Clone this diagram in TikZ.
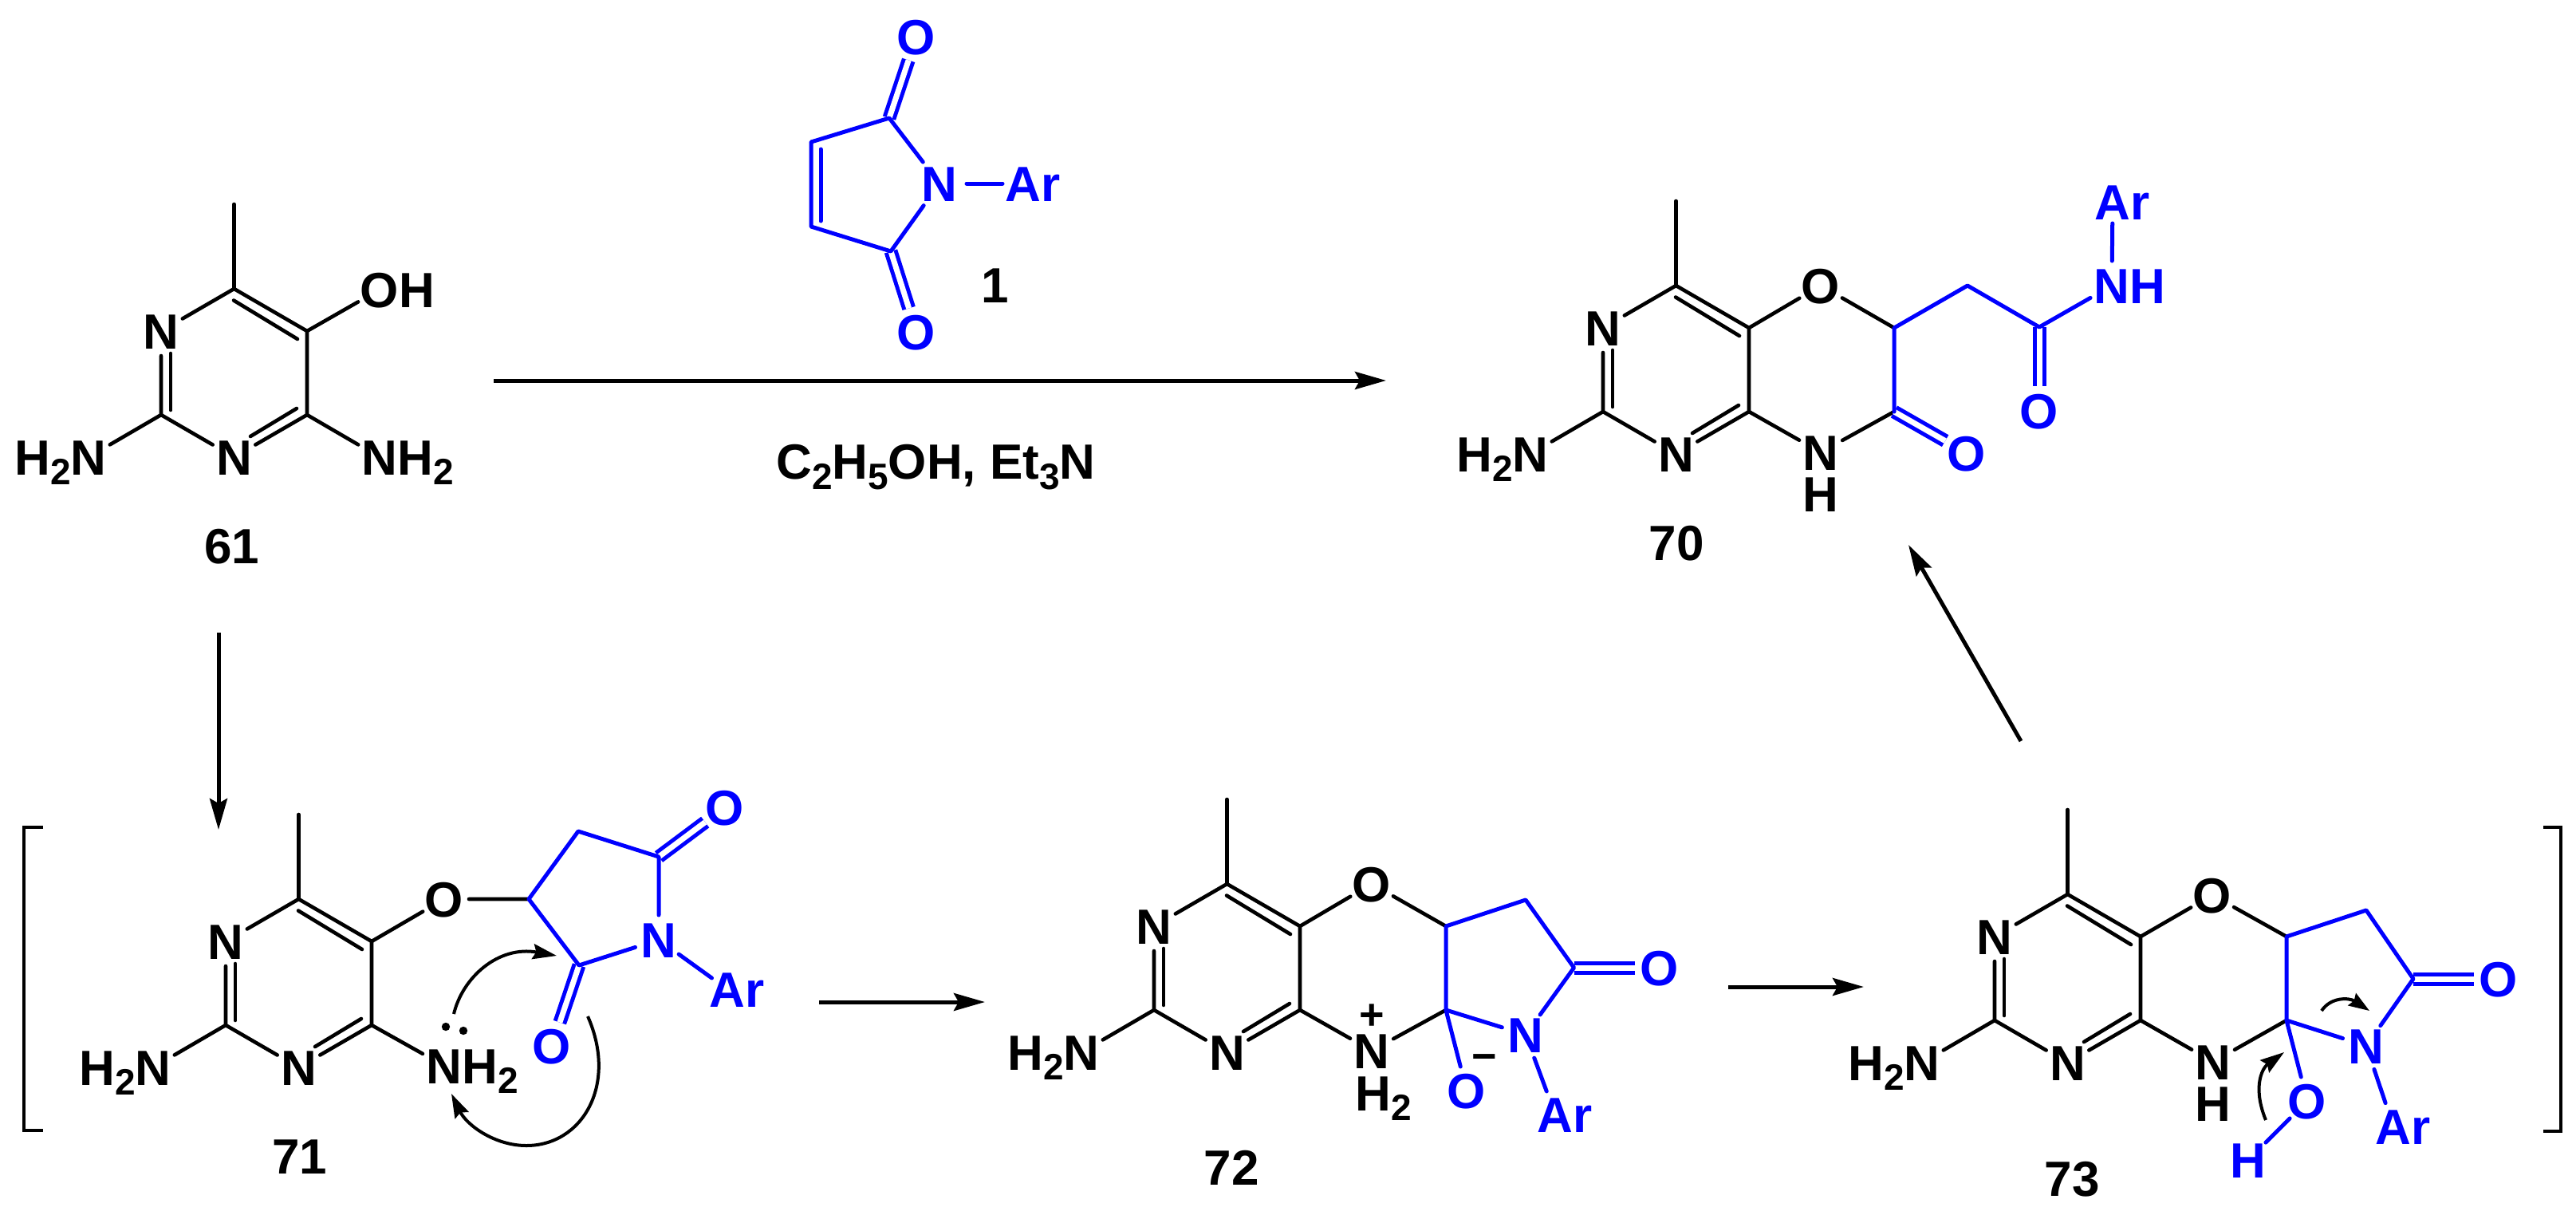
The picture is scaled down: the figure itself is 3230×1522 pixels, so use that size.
\documentclass[tikz,border=0pt]{standalone}
\usepackage{fontspec}
\setmainfont{Liberation Sans}
\usetikzlibrary{arrows.meta}
\newcommand{\atxt}[1]{\smash{\raisebox{-11.1pt}{\makebox[0pt]{#1}}}}
\newcommand{\chg}[1]{\smash{\raisebox{-9.2pt}{\makebox[0pt]{\fontsize{27}{27}\selectfont #1}}}}
\newcommand{\sbs}[1]{\raisebox{-6.2pt}{\fontsize{23}{23}\selectfont #1}}
\tikzset{
  atom/.style={circle,inner sep=0pt,outer sep=0pt,minimum size=31pt,font=\bfseries\fontsize{31}{31}\selectfont,text=black},
  batom/.style={atom,text=blue},
  tag/.style={atom,minimum size=1pt},
  bond/.style={line width=2.3pt,line cap=round,line join=round,black},
  bbond/.style={line width=2.5pt,line cap=round,line join=round,blue},
  dbl/.style={line width=2.5pt,double,double distance=3.5pt,line cap=butt,blue},
  rxn/.style={line width=2.5pt,black,-{Stealth[length=19.5pt,width=11pt,inset=3pt]}},
  curly/.style={line width=2pt,black,-{Stealth[length=15pt,width=9.5pt,inset=2pt]}},
  brk/.style={line width=2.4pt,black,line join=miter},
}
% the pyrimidine ring shared by all five molecules
\newcommand{\pyrring}[3]{%
\begin{scope}[shift={(#2,#3)}]
  \coordinate (#1c2) at (0,0);
  \coordinate (#1c6) at (91.5,-158);
  \coordinate (#1c5) at (183,-105);
  \coordinate (#1c4) at (183,0);
  \coordinate (#1me) at (91.5,-264);
  \node[atom] (#1na) at (0,-105) {\atxt{N}};
  \node[atom] (#1nb) at (91.5,53) {\atxt{N}};
  \node[atom] (#1nh) at (-91,53) {\atxt{\llap{H\sbs{2}}N}};
  \draw[bond] (#1c6) -- (#1me);
  \draw[bond] (#1c6) -- (#1na);
  \draw[bond] (#1c6) -- (#1c5) -- (#1c4) -- (#1nb);
  \draw[bond] (#1na) -- (#1c2) -- (#1nb);
  \draw[bond] (#1c2) -- (#1nh);
  \draw[bond] (91,-143.5) -- (171,-95);
  \draw[bond] (12,-77) -- (12,-6);
  \draw[bond] (170,-8) -- (112,27);
\end{scope}}
\begin{document}
\begin{tikzpicture}[x=0.5pt,y=-0.5pt]
\useasboundingbox (0,0) rectangle (3230,1522);

% ---------- 61 ----------
\pyrring{A}{202}{520}
\node[atom] (Aoh) at (476,363) {\atxt{O\rlap{H}}};
\node[atom] (Anh) at (476,573) {\atxt{N\rlap{H\sbs{2}}}};
\draw[bond] (Ac5) -- (Aoh);
\draw[bond] (Ac4) -- (Anh);
\node[tag] (Atag) at (291,684) {\atxt{61}};

% ---------- 1 ----------
\coordinate (Mc1) at (1115,148);
\coordinate (Mc2) at (1017,178);
\coordinate (Mc3) at (1017,284);
\coordinate (Mc4) at (1117,315);
\node[batom,minimum size=34pt] (Mn) at (1178,230) {\atxt{N}};
\node[batom,minimum size=26pt] (Mar) at (1283,230) {\atxt{A\rlap{r}}};
\node[batom] (Mo1) at (1149,46) {\atxt{O}};
\node[batom] (Mo2) at (1149,416) {\atxt{O}};
\draw[dbl] (Mc1) -- (Mo1);
\draw[dbl] (Mc4) -- (Mo2);
\draw[bbond] (Mn) -- (Mc1) -- (Mc2) -- (Mc3) -- (Mc4) -- (Mn);
\draw[bbond] (1029,187) -- (1029,277);
\draw[bbond] (Mn) -- (Mar);
\node[tag] (Mtag) at (1248,357) {\atxt{1}};

% ---------- reaction arrow and conditions ----------
\coordinate (R1s) at (619,477);
\coordinate (R1e) at (1738,477);
\draw[rxn] (R1s) -- (R1e);
\node[tag] (Cond) at (1173.5,578.5) {\atxt{C\sbs{2}H\sbs{5}OH, Et\sbs{3}N}};

% ---------- 70 ----------
\pyrring{B}{2010}{516}
\node[atom] (Bo) at (2283,358) {\atxt{O}};
\node[atom] (Bn) at (2283,567) {\atxt{N}};
\node[tag] (Bh) at (2283,619) {\atxt{H}};
\coordinate (Bd1) at (2375,411);
\coordinate (Bd2) at (2375,516);
\coordinate (Bd3) at (2467,358);
\coordinate (Bd4) at (2557,410);
\node[batom] (Bo2) at (2466,568) {\atxt{O}};
\node[batom] (Bo3) at (2557,515) {\atxt{O}};
\node[batom] (Bnh) at (2648,358) {\atxt{N\rlap{H}}};
\node[batom,minimum size=27pt] (Bar) at (2649,253) {\atxt{A\rlap{r}}};
\draw[bond] (Bc5) -- (Bo) -- (Bd1);
\draw[bond] (Bc4) -- (Bn) -- (Bd2);
\draw[dbl] (Bd2) -- (Bo2);
\draw[dbl] (Bd4) -- (Bo3);
\draw[bbond] (Bd2) -- (Bd1) -- (Bd3) -- (Bd4) -- (Bnh);
\draw[bbond] (Bnh) -- (Bar);
\node[tag] (Btag) at (2102,680) {\atxt{70}};

% ---------- 61 -> 71 ----------
\coordinate (R2s) at (274,793);
\coordinate (R2e) at (274,1040);
\draw[rxn] (R2s) -- (R2e);

% ---------- left bracket ----------
\coordinate (Lb1) at (54,1037);
\coordinate (Lb2) at (30,1037);
\coordinate (Lb3) at (30,1417);
\coordinate (Lb4) at (54,1417);
\draw[brk] (Lb1) -- (Lb2) -- (Lb3) -- (Lb4);

% ---------- 71 ----------
\pyrring{C}{283}{1285}
\node[atom] (Co) at (557,1127) {\atxt{O}};
\node[atom] (Cnh) at (557,1336) {\atxt{N\rlap{H\sbs{2}}}};
\coordinate (Cd1) at (663,1127);
\coordinate (Cd2) at (725,1042);
\coordinate (Cd3) at (826,1074);
\coordinate (Cd4) at (726,1210);
\node[batom] (Cn) at (826,1178) {\atxt{N}};
\node[batom] (Co2) at (909,1012) {\atxt{O}};
\node[batom] (Co3) at (692,1311) {\atxt{O}};
\node[batom,minimum size=24pt] (Car) at (912,1240) {\atxt{A\rlap{r}}};
\draw[bond] (Cc5) -- (Co) -- (Cd1);
\draw[bond] (Cc4) -- (Cnh);
\draw[dbl] (Cd3) -- (Co2);
\draw[dbl] (Cd4) -- (Co3);
\draw[bbond] (Cd1) -- (Cd2) -- (Cd3) -- (Cn) -- (Cd4) -- (Cd1);
\draw[bbond] (Cn) -- (Car);
\fill[black] (559,1287) circle (2.6pt);
\fill[black] (581,1292) circle (2.6pt);
\coordinate (Ca1s) at (569,1271);
\coordinate (Ca1e) at (698,1198);
\coordinate (Ca2s) at (737,1274);
\coordinate (Ca2m) at (660,1436);
\coordinate (Ca2e) at (566,1371);
\draw[curly] (Ca1s) .. controls (580,1225) and (625,1185) .. (Ca1e);
\draw[curly] (Ca2s) .. controls (775,1360) and (730,1436) .. (Ca2m) .. controls (620,1436) and (585,1410) .. (Ca2e);
\node[tag] (Ctag) at (376,1449) {\atxt{71}};

% ---------- 71 -> 72 ----------
\coordinate (R3s) at (1027,1256);
\coordinate (R3e) at (1235,1256);
\draw[rxn] (R3s) -- (R3e);

% ---------- 72 ----------
\pyrring{D}{1447}{1266}
\node[atom] (Do) at (1720,1108) {\atxt{O}};
\node[atom] (Dn) at (1720,1317) {\atxt{N}};
\node[tag] (Dh) at (1722,1370) {\atxt{H\rlap{\sbs{2}}}};
\node[tag] (Dplus) at (1720,1272) {\chg{+}};
\coordinate (Dd1) at (1813,1161);
\coordinate (Dd2) at (1813,1266);
\coordinate (Dd3) at (1913,1128);
\coordinate (Dd4) at (1973.6,1213);
\node[batom] (Dn2) at (1913,1297) {\atxt{N}};
\node[batom] (Do2) at (2081,1213) {\atxt{O}};
\node[batom] (Do3) at (1839,1367) {\atxt{O}};
\node[tag] (Dminus) at (1861,1324) {\chg{−}};
\node[batom] (Dar) at (1950,1397) {\atxt{A\rlap{r}}};
\draw[bond] (Dc5) -- (Do) -- (Dd1);
\draw[bond] (Dc4) -- (Dn) -- (Dd2);
\draw[dbl] (Dd4) -- (Do2);
\draw[bbond] (Dn2) -- (Dd4) -- (Dd3) -- (Dd1) -- (Dd2) -- (Dn2);
\draw[bbond] (Dd2) -- (Do3);
\draw[bbond] (Dn2) -- (Dar);
\node[tag] (Dtag) at (1544,1463) {\atxt{72}};

% ---------- 72 -> 73 ----------
\coordinate (R4s) at (2167,1237);
\coordinate (R4e) at (2337,1237);
\draw[rxn] (R4s) -- (R4e);

% ---------- 73 ----------
\pyrring{E}{2501}{1279}
\node[atom] (Eo) at (2774,1122) {\atxt{O}};
\node[atom] (En) at (2775,1331) {\atxt{N}};
\node[tag] (Eh) at (2775,1383) {\atxt{H}};
\coordinate (Ed1) at (2867,1174);
\coordinate (Ed2) at (2867,1279);
\coordinate (Ed3) at (2967,1141);
\coordinate (Ed4) at (3026,1227);
\node[batom] (En2) at (2967,1311) {\atxt{N}};
\node[batom] (Eo2) at (3133,1227) {\atxt{O}};
\node[batom] (Eo3) at (2893,1380) {\atxt{O}};
\node[batom] (Eh2) at (2819,1454) {\atxt{H}};
\node[batom] (Ear) at (3001,1412) {\atxt{A\rlap{r}}};
\draw[bond] (Ec5) -- (Eo) -- (Ed1);
\draw[bond] (Ec4) -- (En) -- (Ed2);
\draw[dbl] (Ed4) -- (Eo2);
\draw[bbond] (En2) -- (Ed4) -- (Ed3) -- (Ed1) -- (Ed2) -- (En2);
\draw[bbond] (Ed2) -- (Eo3) -- (Eh2);
\draw[bbond] (En2) -- (Ear);
\coordinate (Ea1s) at (2911,1267);
\coordinate (Ea1e) at (2971,1267);
\coordinate (Ea2s) at (2841,1404);
\coordinate (Ea2e) at (2864,1319);
\draw[curly,-{Stealth[length=13pt,width=9pt,inset=1.5pt]}] (Ea1s) .. controls (2922,1250) and (2945,1250) .. (Ea1e);
\draw[curly] (Ea2s) .. controls (2825,1365) and (2835,1340) .. (Ea2e);
\node[tag] (Etag) at (2598,1477) {\atxt{73}};

% ---------- 73 -> 70 ----------
\coordinate (R5s) at (2534,929);
\coordinate (R5e) at (2393,683);
\draw[rxn] (R5s) -- (R5e);

% ---------- right bracket ----------
\coordinate (Rb1) at (3189,1037);
\coordinate (Rb2) at (3211,1037);
\coordinate (Rb3) at (3211,1418);
\coordinate (Rb4) at (3189,1418);
\draw[brk] (Rb1) -- (Rb2) -- (Rb3) -- (Rb4);
\end{tikzpicture}
\end{document}
